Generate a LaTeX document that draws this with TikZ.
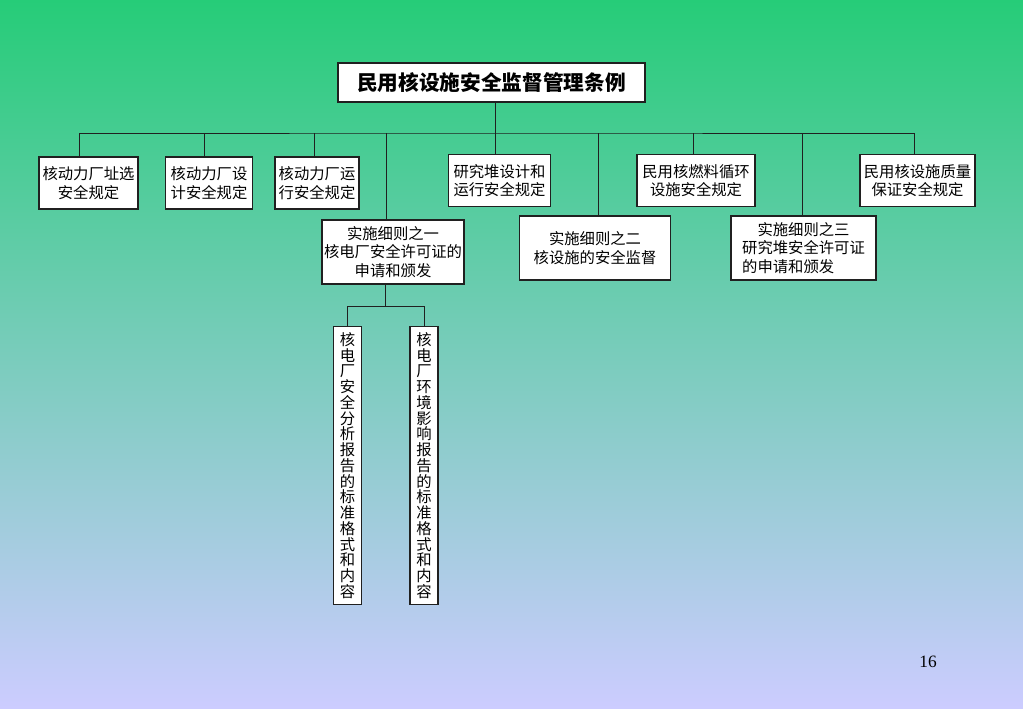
\documentclass[tikz,border=0pt]{standalone}
\usepackage{fontspec}
\setmainfont{Liberation Serif}
\newfontfamily\cjk{Noto Sans CJK SC}
\definecolor{topgreen}{RGB}{38,204,120}
\definecolor{bottomblue}{RGB}{204,204,255}
\definecolor{linecolor}{HTML}{202020}
\tikzset{
  box/.style={draw=linecolor, line width=0.9pt, fill=white, inner sep=0pt,
    align=center, font=\cjk\fontsize{11.5}{14}\selectfont, minimum height=39pt},
  vbox/.style={box, minimum width=21pt, minimum height=209pt,
    font=\cjk\fontsize{11.5}{11.8}\selectfont},
  link/.style={draw=linecolor, line width=0.75pt}
}

\begin{document}
\begin{tikzpicture}[x=0.75pt,y=-0.75pt]

  \shade[top color=topgreen, bottom color=bottomblue] (0,0) rectangle (1023,708);
  \useasboundingbox (0,0) rectangle (1023,708);

  % top
  \node[box, minimum width=230.25pt, minimum height=29.25pt,
    font=\cjk\bfseries\fontsize{15.5}{18}\selectfont] (title) at (491.5,82.5) {民用核设施安全监督管理条例};

  % first row
  \node[box, minimum width=74.25pt] (b1) at (88.5,183) {核动力厂址选\\安全规定};
  \node[box, minimum width=65.25pt] (b2) at (209,183) {核动力厂设\\计安全规定};
  \node[box, minimum width=63pt] (b3) at (317,183) {核动力厂运\\行安全规定};
  \node[box, minimum width=76.5pt] (b4) at (499.5,180.5) {研究堆设计和\\运行安全规定};
  \node[box, minimum width=88.5pt] (b5) at (696,180.5) {民用核燃料循环\\设施安全规定};
  \node[box, minimum width=86.25pt] (b6) at (917.5,180.5) {民用核设施质量\\保证安全规定};

  % second row
  \node[box, minimum width=106.5pt, minimum height=48pt] (ra) at (393,252) {实施细则之一\\核电厂安全许可证的\\申请和颁发};
  \node[box, minimum width=113.25pt, minimum height=48pt] (rb) at (595,248) {实施细则之二\\核设施的安全监督};
  \node[box, minimum width=108.75pt, minimum height=48pt, align=left] (rc) at (803.5,248) {\hspace*{1em}实施细则之三\\研究堆安全许可证\\的申请和颁发};

  % third row
  \node[vbox] (rd) at (347.5,465.5) {核\\电\\厂\\安\\全\\分\\析\\报\\告\\的\\标\\准\\格\\式\\和\\内\\容};
  \node[vbox] (re) at (424,465.5) {核\\电\\厂\\环\\境\\影\\响\\报\\告\\的\\标\\准\\格\\式\\和\\内\\容};

  \node[font=\fontsize{13}{15}\selectfont] (page) at (928,662) {16};

  % connectors
  \coordinate (bus) at (495,133);
  \coordinate (fork) at (385,306);
  \draw[link] (title.south -| bus) -- (bus);
  \draw[link] ([xshift=-7.1pt]b1.north) |- (bus) -| ([xshift=-1.9pt]b6.north);
  \draw[link] (bus) -- (bus |- b4.north);
  \foreach \n/\dx in {b2/-3.75pt, b3/-2.25pt, ra/-5.25pt, rb/2.25pt, b5/-2.25pt, rc/-1.1pt}
    \draw[link] ([xshift=\dx]\n.north) -- ([xshift=\dx]\n.north |- bus);
  \draw[link] (ra.south -| fork) -- (fork);
  \draw[link] (rd.north) |- (fork) -| (re.north);

\end{tikzpicture}
\end{document}
